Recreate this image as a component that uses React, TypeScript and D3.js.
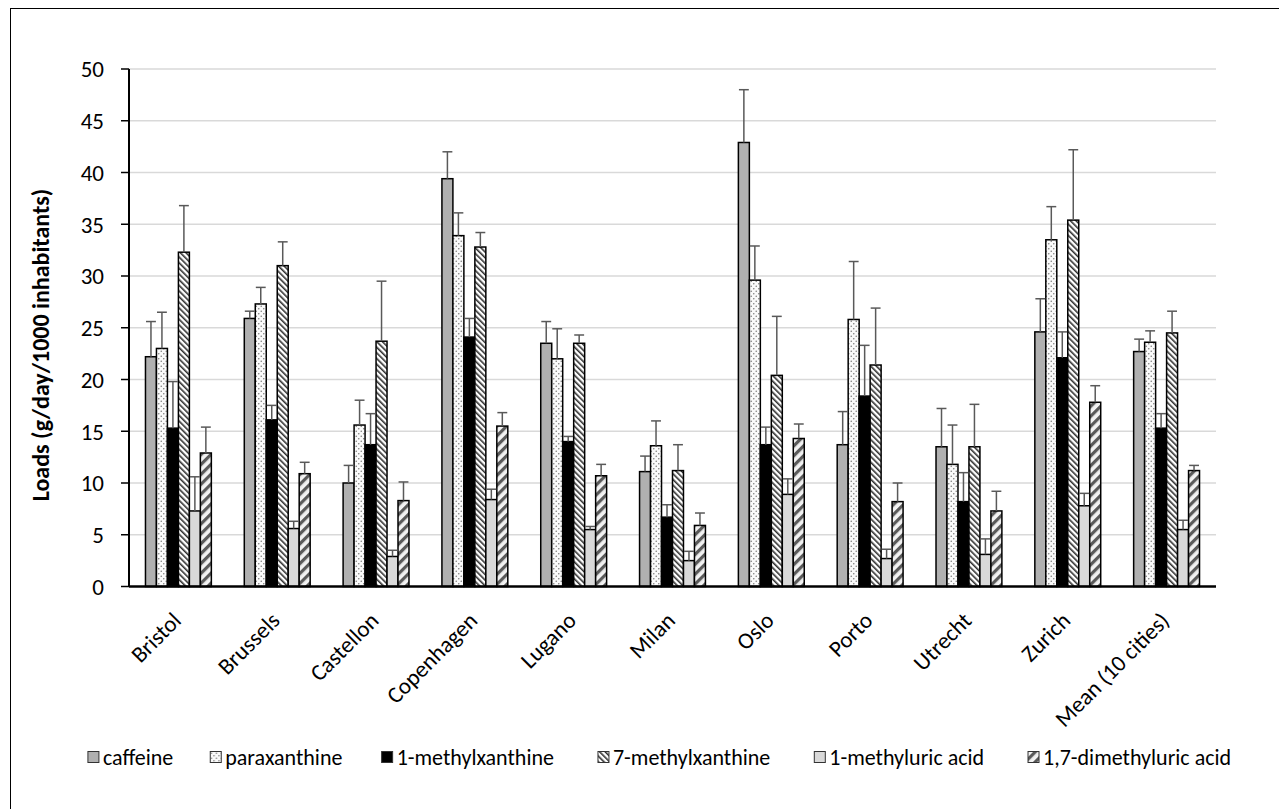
import React from "react";
import * as d3 from "d3";

const categories = ["Bristol","Brussels","Castellon","Copenhagen","Lugano","Milan","Oslo","Porto","Utrecht","Zurich","Mean (10 cities)"];
const seriesNames = ["caffeine","paraxanthine","1-methylxanthine","7-methylxanthine","1-methyluric acid","1,7-dimethyluric acid"];

const caffeine = [22.2,25.9,10.0,39.4,23.5,11.1,42.9,13.7,13.5,24.6,22.7];
const caffeineSd = [3.4,0.7,1.7,2.6,2.1,1.5,5.1,3.2,3.7,3.2,1.2];
const paraxanthine = [23.0,27.3,15.6,33.9,22.0,13.6,29.6,25.8,11.8,33.5,23.6];
const paraxanthineSd = [3.5,1.6,2.4,2.2,2.9,2.4,3.3,5.6,3.8,3.2,1.1];
const methylxanthine1 = [15.3,16.1,13.7,24.1,14.0,6.7,13.7,18.4,8.2,22.1,15.3];
const methylxanthine1Sd = [4.5,1.4,3.0,1.8,0.5,1.2,1.7,4.9,2.8,2.5,1.4];
const methylxanthine7 = [32.3,31.0,23.7,32.8,23.5,11.2,20.4,21.4,13.5,35.4,24.5];
const methylxanthine7Sd = [4.5,2.3,5.8,1.4,0.8,2.5,5.7,5.5,4.1,6.8,2.1];
const methyluric1 = [7.3,5.6,2.9,8.4,5.5,2.5,8.9,2.7,3.1,7.8,5.5];
const methyluric1Sd = [3.3,0.7,0.6,1.0,0.3,0.9,1.5,0.9,1.5,1.2,0.9];
const dimethyluric17 = [12.9,10.9,8.3,15.5,10.7,5.9,14.3,8.2,7.3,17.8,11.2];
const dimethyluric17Sd = [2.5,1.1,1.8,1.3,1.1,1.2,1.4,1.8,1.9,1.6,0.5];

const yTicks = [0,5,10,15,20,25,30,35,40,45,50];

const seriesValues = [caffeine, paraxanthine, methylxanthine1, methylxanthine7, methyluric1, dimethyluric17];
const seriesSd = [caffeineSd, paraxanthineSd, methylxanthine1Sd, methylxanthine7Sd, methyluric1Sd, dimethyluric17Sd];
const fills = ["#b0b0b0","url(#pDots)","#000000","url(#pDiag)","#d9d9d9","url(#pWide)"];

const FONT = "Calibri, Carlito, Lato, 'Open Sans', sans-serif";

function measure(text: string, size: number): number {
  const c = document.createElement("canvas").getContext("2d");
  if (!c) return text.length * size * 0.5;
  c.font = `${size}px Lato`;
  return c.measureText(text).width;
}

export default function App() {
  const W = 1279, H = 809;
  const left = 129, right = 1216, top = 69, bottom = 586.5;
  const x = d3.scaleBand<string>().domain(categories).range([left, right]).padding(0);
  const step = x.bandwidth();
  const groupW = step * 6 / 9;
  const inner = d3.scaleBand<string>().domain(seriesNames).range([0, groupW]).padding(0);
  const bw = inner.bandwidth();
  const y = d3.scaleLinear().domain([0, 50]).range([bottom, top]);

  const legendSize = 22;
  const sw = 11, gapSwText = 4, itemGap = 31;
  const widths = seriesNames.map((s) => sw + gapSwText + measure(s, legendSize));
  const total = d3.sum(widths) + itemGap * (seriesNames.length - 1);
  let lx = 667 - total / 2;
  const legendPos = widths.map((w) => { const p = lx; lx += w + itemGap; return p; });
  const ly = 757;

  return (
    <svg width={W} height={H} style={{ position: "absolute", left: 0, top: 0, background: "#fff" }} fontFamily={FONT}>
      <defs>
        <pattern id="pDots" patternUnits="userSpaceOnUse" width="5" height="5">
          <rect width="5" height="5" fill="#fafafa" />
          <circle cx="1.25" cy="1.25" r="0.8" fill="#808080" />
          <circle cx="3.75" cy="3.75" r="0.8" fill="#808080" />
        </pattern>
        <pattern id="pDiag" patternUnits="userSpaceOnUse" width="4" height="4" patternTransform="rotate(-45)">
          <rect width="4" height="4" fill="#ffffff" />
          <rect x="0" y="0" width="1.6" height="4" fill="#303030" />
        </pattern>
        <pattern id="pWide" patternUnits="userSpaceOnUse" width="7" height="7" patternTransform="rotate(45)">
          <rect width="7" height="7" fill="#f2f2f2" />
          <rect x="0" y="0" width="3.2" height="7" fill="#5a5a5a" />
        </pattern>
      </defs>
      <rect x={10.5} y={8.5} width={1400} height={1000} fill="none" stroke="#000" strokeWidth={1} />

      {yTicks.filter((t) => t > 0).map((t) => (
        <line key={"g" + t} x1={left} x2={right} y1={y(t)} y2={y(t)} stroke="#d9d9d9" strokeWidth={1.5} />
      ))}

      {seriesNames.map((s, si) => (
        <g key={s}>
          {categories.map((c, ci) => {
            const bx = (x(c) as number) + (step - groupW) / 2 + (inner(s) as number);
            const v = seriesValues[si][ci];
            return (
              <rect key={c} x={bx} y={y(v)} width={bw} height={y(0) - y(v)} fill={fills[si]} stroke="#000" strokeWidth={1.5} />
            );
          })}
        </g>
      ))}

      {seriesNames.map((s, si) => (
        <g key={"e" + s} stroke="#595959" strokeWidth={1.5}>
          {categories.map((c, ci) => {
            const cx = (x(c) as number) + (step - groupW) / 2 + (inner(s) as number) + bw / 2;
            const v = seriesValues[si][ci];
            const e = v + seriesSd[si][ci];
            return (
              <g key={c}>
                <line x1={cx} x2={cx} y1={y(v)} y2={y(e)} />
                <line x1={cx - bw * 0.45} x2={cx + bw * 0.45} y1={y(e)} y2={y(e)} />
              </g>
            );
          })}
        </g>
      ))}

      <line x1={left} x2={left} y1={top} y2={bottom} stroke="#000" strokeWidth={2} />
      {yTicks.map((t) => (
        <g key={"t" + t}>
          <line x1={left - 8} x2={left} y1={y(t)} y2={y(t)} stroke="#000" strokeWidth={1.5} />
          <text x={104} y={y(t)} dy="0.36em" textAnchor="end" fontSize={23} fill="#000">{t}</text>
        </g>
      ))}
      <line x1={left} x2={right} y1={bottom} y2={bottom} stroke="#000" strokeWidth={2.5} />

      {categories.map((c) => {
        const cx = (x(c) as number) + step / 2;
        return (
          <text key={"x" + c} transform={`translate(${cx + 4},${622}) rotate(-45)`} textAnchor="end" fontSize={23} fill="#000">{c}</text>
        );
      })}

      <text transform="translate(49,345) rotate(-90)" textAnchor="middle" fontSize={24} fontWeight="bold" fill="#000">Loads (g/day/1000 inhabitants)</text>

      {seriesNames.map((s, si) => (
        <g key={"l" + s} transform={`translate(${legendPos[si]},${ly})`}>
          <rect x={0} y={-sw / 2} width={sw} height={sw} fill={fills[si]} stroke="#333" strokeWidth={1} />
          <text x={sw + gapSwText} y={0} dy="0.36em" fontSize={legendSize} fill="#000">{s}</text>
        </g>
      ))}
    </svg>
  );
}
